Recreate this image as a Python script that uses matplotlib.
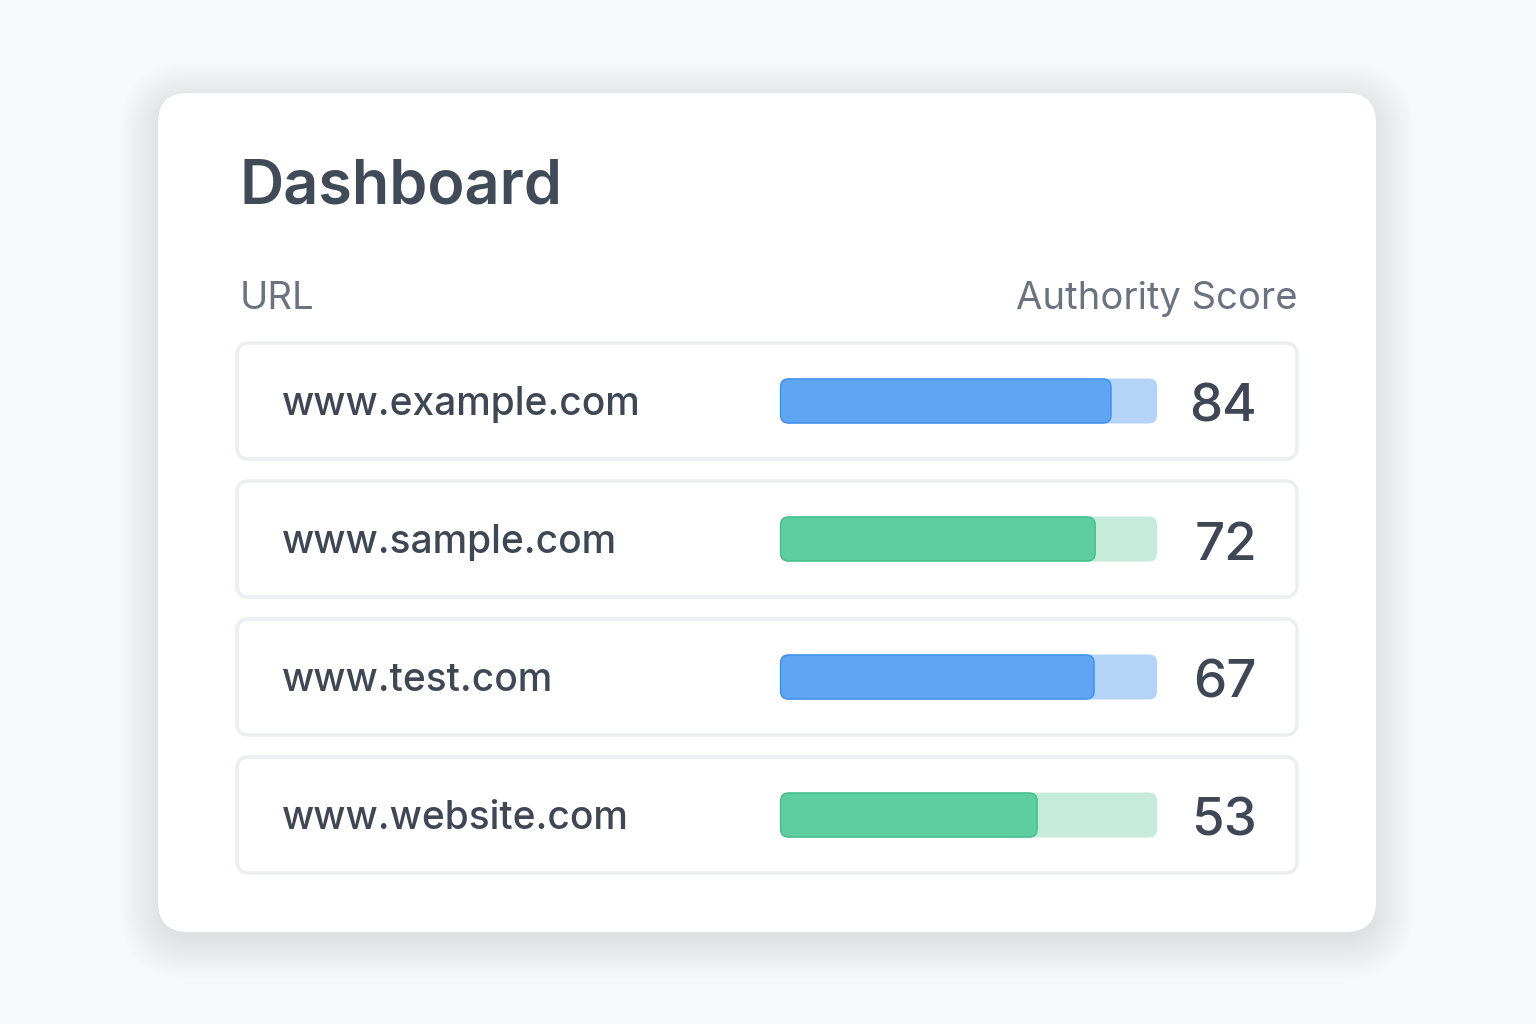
import matplotlib
matplotlib.use("Agg")
import matplotlib.pyplot as plt
from matplotlib.patches import FancyBboxPatch

# ---- data ----
urls = ["www.example.com", "www.sample.com", "www.test.com", "www.website.com"]
scores = [84, 72, 67, 53]
bar_fill_pct = [87.8, 83.6, 83.3, 68.2]   # filled share of each track
bar_palette = ["blue", "green", "blue", "green"]
title = "Dashboard"
col_left = "URL"
col_right = "Authority Score"

# ---- styles ----
FILL = {"blue": "#60A5F1", "green": "#5ECEA0"}
EDGE = {"blue": "#3D8EEE", "green": "#41BE8A"}
TRACK = {"blue": "#B5D3F7", "green": "#C6EBDB"}
TXT_DARK = "#3E4753"
TXT_MID = "#6B7280"
BG = "#F7F8FA"

plt.rcParams['font.family'] = ['Inter', 'DejaVu Sans']

W, H = 1536, 1024
fig = plt.figure(figsize=(W / 100, H / 100), dpi=100, facecolor=BG)
ax = fig.add_axes([0, 0, 1, 1])
ax.set_xlim(0, W)
ax.set_ylim(H, 0)
ax.axis("off")
ax.set_facecolor(BG)

# card shadow (soft)
cx0, cy0, cx1, cy1 = 158, 93, 1376, 932
for i in range(24):
    g = 1 + i * 1.8
    ax.add_patch(FancyBboxPatch((cx0 - g + 4, cy0 - g + 12), (cx1 - cx0) + 2 * g - 8, (cy1 - cy0) + 2 * g - 8,
                                boxstyle=f"round,pad=0,rounding_size={30 + g}",
                                facecolor="#1F2937", edgecolor="none", alpha=0.0021, zorder=1))
# card
ax.add_patch(FancyBboxPatch((cx0, cy0), cx1 - cx0, cy1 - cy0,
                            boxstyle="round,pad=0,rounding_size=30",
                            facecolor="white", edgecolor="none", zorder=2))

ax.text(240, 203, title, fontsize=44, fontweight="semibold", color="#414B57",
        ha="left", va="baseline", zorder=5)
ax.text(240, 309, col_left, fontsize=27.5, color=TXT_MID, ha="left", va="baseline", zorder=5)
ax.text(1297, 309, col_right, fontsize=27.5, color=TXT_MID, ha="right", va="baseline", zorder=5)

row_tops = [343, 481, 619, 757]
row_h = 116
bar_x0, bar_w, bar_h = 780, 377, 45

for i, (u, s, f, pal) in enumerate(zip(urls, scores, bar_fill_pct, bar_palette)):
    top = row_tops[i]
    cyc = top + row_h / 2
    ax.add_patch(FancyBboxPatch((237, top), 1060, row_h,
                                boxstyle="round,pad=0,rounding_size=12",
                                facecolor="white", edgecolor="#ECEEF2", linewidth=2.6, zorder=3))
    ax.text(282, cyc + 14, u, fontsize=28, fontweight="medium", color=TXT_DARK,
            ha="left", va="baseline", zorder=5)
    ax.text(1257, cyc + 21, str(s), fontsize=38, fontweight="medium", color=TXT_DARK,
            ha="right", va="baseline", zorder=5)

    # bar axes, 0..100 scale
    btop = cyc - bar_h / 2
    bax = fig.add_axes([bar_x0 / W, 1 - (btop + bar_h) / H, bar_w / W, bar_h / H])
    bax.set_xlim(0, 100)
    bax.set_ylim(0, 1)
    bax.axis("off")
    bax.patch.set_alpha(0)
    asp = (bar_w / 100) / bar_h
    r = 8 / (bar_w / 100)
    bax.add_patch(FancyBboxPatch((0, 0), 100, 1, boxstyle=f"round,pad=0,rounding_size={r}",
                                 mutation_aspect=asp, facecolor=TRACK[pal], edgecolor="none",
                                 clip_on=False, zorder=1))
    bax.add_patch(FancyBboxPatch((0.15, 0.01), f - 0.15, 0.98, boxstyle=f"round,pad=0,rounding_size={r}",
                                 mutation_aspect=asp, facecolor=FILL[pal], edgecolor=EDGE[pal],
                                 linewidth=1.0, clip_on=False, zorder=2))

fig.savefig("out.png", dpi=100, facecolor=BG)
